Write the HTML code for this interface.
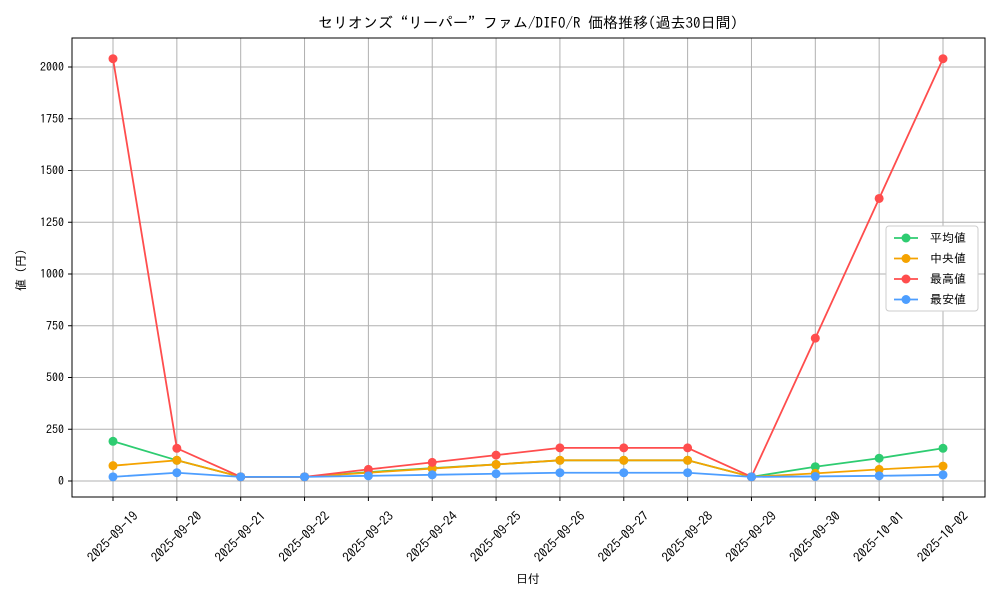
<!DOCTYPE html>
<html><head><meta charset="utf-8"><style>
body{margin:0;background:#fff;font-family:"IPAGothic","Noto Sans CJK JP",sans-serif;}
svg text{font-family:"IPAGothic","Noto Sans CJK JP",sans-serif;fill:#000;}
</style></head><body>
<svg id="chart" width="1000" height="600" xmlns="http://www.w3.org/2000/svg">
<rect width="1000" height="600" fill="#fff"/>
<text x="528" y="28" font-size="15" text-anchor="middle">セリオンズ“リーパー”ファム/DIFO/R 価格推移(過去30日間)</text>
<g id="grid"></g><g id="axes"></g><g id="series"></g>
<text x="528" y="583" font-size="12" text-anchor="middle">日付</text>
<text transform="translate(25,270) rotate(-90)" font-size="12" text-anchor="middle">値 (円)</text>
<g>
<rect x="886" y="226" width="92" height="85" fill="#fff" stroke="#ccc" rx="3"/>
<g id="legend"></g></g>
</svg>
<script>
const categories=["2025-09-19","2025-09-20","2025-09-21","2025-09-22","2025-09-23","2025-09-24","2025-09-25","2025-09-26","2025-09-27","2025-09-28","2025-09-29","2025-09-30","2025-10-01","2025-10-02"];
const avgValues=[192,100,20,20,43,62,80,100,100,100,20,69,110,158];
const medianValues=[74,100,20,20,40,60,80,100,100,100,20,37,56,72];
const maxValues=[2040,158,20,20,56,90,125,160,160,160,20,690,1365,2040];
const minValues=[20,40,20,20,25,30,35,40,40,40,20,22,25,30];
const yTicks=[0,250,500,750,1000,1250,1500,1750,2000];
const seriesNames=["平均値","中央値","最高値","最安値"];
const colors=["#2ecc71","#f5a300","#ff4d4d","#4d9eff"];
const NS="http://www.w3.org/2000/svg";
const L=72,R=985,T=38,B=497;
const x=i=>113+i*(943-113)/(categories.length-1);
const y=v=>481-v*(481-67)/2000;
function mk(t,a,p){const e=document.createElementNS(NS,t);for(const k in a)e.setAttribute(k,a[k]);p.appendChild(e);return e;}
const grid=document.getElementById('grid'),axes=document.getElementById('axes'),ser=document.getElementById('series');
yTicks.forEach(v=>{
 const g=mk('line',{x1:L,x2:R,y1:y(v),y2:y(v),stroke:'#b0b0b0','stroke-width':1},grid);
 
 
 mk('line',{x1:L-4,x2:L,y1:y(v),y2:y(v),stroke:'#000'},axes);
 const t=mk('text',{x:L-8,y:y(v)+4,'font-size':12,'text-anchor':'end'},axes);t.textContent=v;
 
 
});
categories.forEach((c,i)=>{
 const g=mk('line',{x1:x(i),x2:x(i),y1:T,y2:B,stroke:'#b0b0b0','stroke-width':1},grid);
 
 
 mk('line',{x1:x(i),x2:x(i),y1:B,y2:B+4,stroke:'#000'},axes);
 const t=mk('text',{x:0,y:4,'font-size':13,'text-anchor':'middle',transform:`translate(${x(i)},${B+40}) rotate(-45)`},axes);t.textContent=c;
 
 
});
const fr=mk('rect',{x:L,y:T,width:R-L,height:B-T,fill:'none',stroke:'#000','stroke-width':1},axes);


[avgValues,medianValues,maxValues,minValues].forEach((vals,s)=>{
 const g=mk('g',{},ser);
 
 
 const p=mk('polyline',{points:vals.map((v,i)=>x(i)+','+y(v)).join(' '),fill:'none',stroke:colors[s],'stroke-width':1.8},g);
 
 
 vals.forEach((v,i)=>{const c=mk('circle',{cx:x(i),cy:y(v),r:4.5,fill:colors[s]},g);
  
  });
});
const lg=document.getElementById('legend');
seriesNames.forEach((n,i)=>{
 const yy=238+i*20.5;
 mk('line',{x1:894,x2:918,y1:yy,y2:yy,stroke:colors[i],'stroke-width':1.8},lg);
 mk('circle',{cx:906,cy:yy,r:4.5,fill:colors[i]},lg);
 const t=mk('text',{x:930,y:yy+4,'font-size':12},lg);t.textContent=n;
 
 
});
</script>
</body></html>
